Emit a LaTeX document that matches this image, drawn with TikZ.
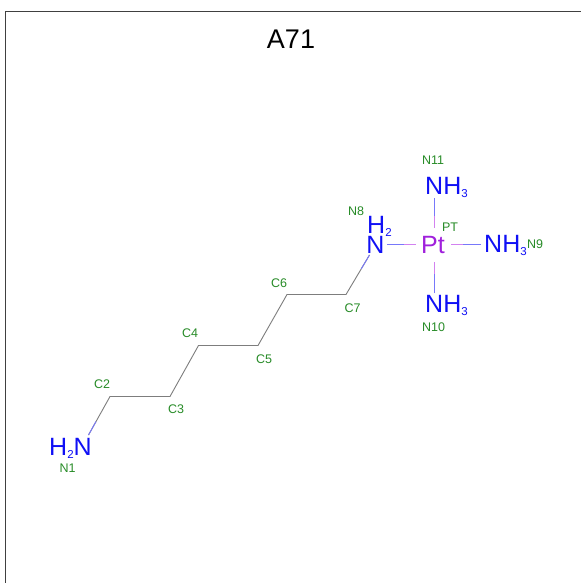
\documentclass[tikz,border=0pt]{standalone}
\usepackage{fontspec}
\setmainfont{Liberation Sans}
\usetikzlibrary{calc}
\definecolor{atomblue}{RGB}{16,16,245}
\definecolor{atompurple}{RGB}{160,32,220}
\definecolor{labelgreen}{RGB}{40,140,40}
\definecolor{bondgrey}{RGB}{125,125,125}
\definecolor{bondblue}{RGB}{120,120,250}
\definecolor{bondpurple}{RGB}{210,130,240}
\tikzset{
  x=1pt,y=-1pt,
  atomN/.style={text=atomblue,inner sep=0pt,font=\fontsize{25}{25}\selectfont},
  atomPt/.style={text=atompurple,inner sep=0pt,font=\fontsize{25}{25}\selectfont},
  tag/.style={text=labelgreen,inner sep=0pt,font=\fontsize{12.5}{13}\selectfont},
  cc/.style={draw=bondgrey,line width=0.9pt},
  nb/.style={draw=bondblue,line width=0.9pt},
  pb/.style={draw=bondpurple,line width=0.9pt}
}
\newcommand{\subs}[1]{\raisebox{-3pt}{\fontsize{11.5}{12}\selectfont #1}}
\begin{document}
\begin{tikzpicture}
\useasboundingbox (0,0) rectangle (581,583);
\fill[white] (0,0) rectangle (581,583);
\draw[draw=black!75,line width=1pt] (5.5,583) -- (5.5,11.5) -- (581,11.5);
\node[inner sep=0pt,font=\fontsize{27}{27}\selectfont] (title) at (291,39) {A71};
% atom positions
\coordinate (c2) at (110,396.5);
\coordinate (c3) at (170,396.5);
\coordinate (c4) at (198.5,345.5);
\coordinate (c5) at (258,345.5);
\coordinate (c6) at (287,294.5);
\coordinate (c7) at (346,294.5);
\coordinate (n1) at (88.5,435);
\coordinate (n8) at (369.5,255);
\node[atomPt,anchor=base] (pt) at (433,253) {Pt};
\node[atomN,anchor=base west] (n9) at (484,252.5) {NH\subs{3}};
\node[atomN,anchor=base west] (n10) at (425,312) {NH\subs{3}};
\node[atomN,anchor=base west] (n11) at (425,194) {NH\subs{3}};
\node[atomN,anchor=base] (n8t) at (375.5,253) {N};
\node[atomN,anchor=base west] (n8h) at (367,233) {H\subs{2}};
\node[atomN,anchor=base west] (n1t) at (49,455) {H\subs{2}N};
% bonds
\draw[cc] (n1) -- (c2) -- (c3) -- (c4) -- (c5) -- (c6) -- (c7) -- (n8);
\draw[nb] (n1) -- ($(n1)!.35!(c2)$);
\draw[nb] (n8) -- ($(n8)!.35!(c7)$);
\coordinate (pl) at (416,244);
\coordinate (pr) at (451,244);
\coordinate (pu) at (434,228);
\coordinate (pd) at (434,262);
\coordinate (nl) at (387,244);
\coordinate (nr) at (481,244);
\coordinate (nu) at (434,198);
\coordinate (nd) at (434,293);
\draw[nb] (nl) -- ($(nl)!.6!(pl)$);
\draw[pb] ($(nl)!.6!(pl)$) -- (pl);
\draw[nb] (nr) -- ($(nr)!.6!(pr)$);
\draw[pb] ($(nr)!.6!(pr)$) -- (pr);
\draw[nb] (nu) -- ($(nu)!.6!(pu)$);
\draw[pb] ($(nu)!.6!(pu)$) -- (pu);
\draw[nb] (nd) -- ($(nd)!.6!(pd)$);
\draw[pb] ($(nd)!.6!(pd)$) -- (pd);
% labels
\node[tag] (ln1) at (67.5,468.5) {N1};
\node[tag] (lc2) at (102,384.5) {C2};
\node[tag] (lc3) at (176,409.5) {C3};
\node[tag] (lc4) at (190,333.5) {C4};
\node[tag] (lc5) at (264,359.5) {C5};
\node[tag] (lc6) at (279,283.5) {C6};
\node[tag] (lc7) at (352.5,308.5) {C7};
\node[tag] (ln8) at (356,211.5) {N8};
\node[tag] (lpt) at (450,227.5) {PT};
\node[tag] (ln9) at (535,244.5) {N9};
\node[tag] (ln10) at (433.5,327.5) {N10};
\node[tag] (ln11) at (433,160.5) {N11};
\end{tikzpicture}
\end{document}
